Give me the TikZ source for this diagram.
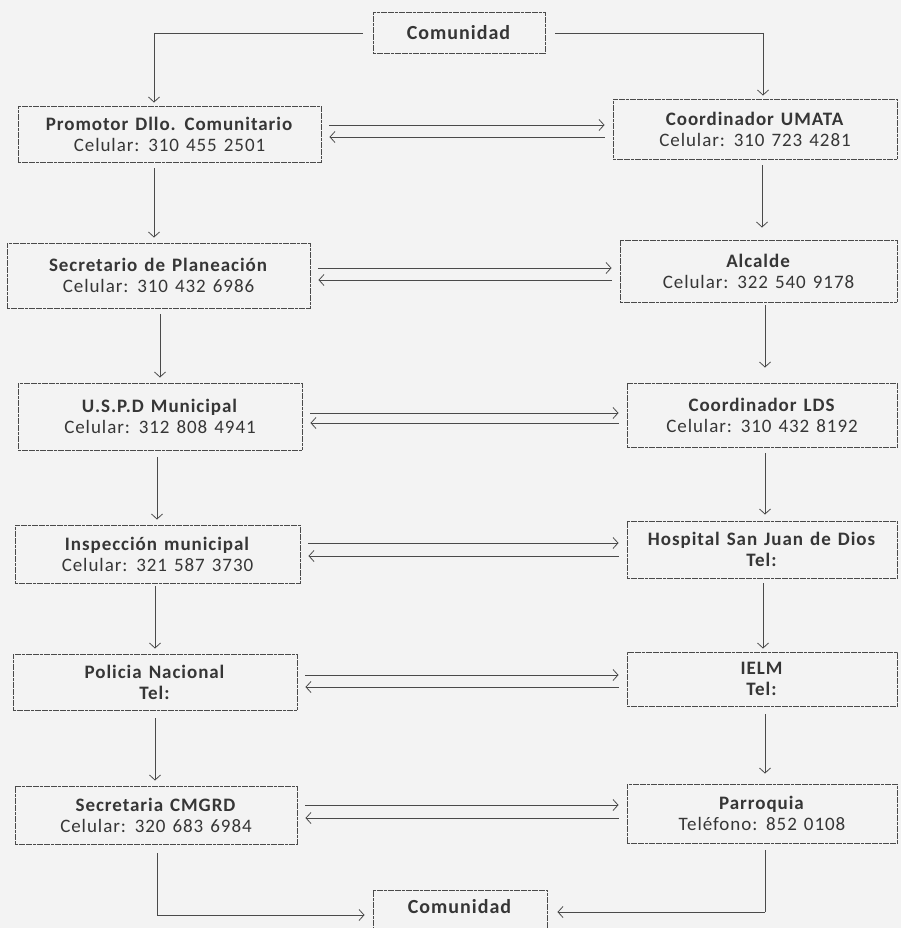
\documentclass[tikz,border=0pt]{standalone}
\usepackage{fontspec}
\setmainfont{Carlito}[LetterSpace=5]
\usetikzlibrary{arrows.meta}
\definecolor{bg}{HTML}{F3F3F3}
\definecolor{ink}{HTML}{363636}
\definecolor{linec}{HTML}{4A4A4A}
\newcommand{\boxfont}{\fontsize{19}{21}\selectfont\spaceskip=7pt plus 1pt\relax}
\tikzset{
  box/.style={draw=linec, line width=0.9pt, dash pattern=on 3pt off 0.6pt, fill=bg,
    inner sep=0pt, align=center, text=ink, font=\boxfont},
  arr/.style={draw=linec, line width=0.8pt, -{Straight Barb[length=5pt,width=11pt]}},
  link/.style={draw=linec, line width=0.8pt}
}
\newcommand{\twol}[2]{\textbf{#1}\\#2}
\begin{document}
\begin{tikzpicture}[x=1pt,y=-1pt]
\fill[bg] (0,0) rectangle (901,928);
\useasboundingbox (0,0) rectangle (901,928);
\clip (0,0) rectangle (901,928);
% boxes
\node[box, minimum width=172pt, minimum height=41pt] (com1) at (459,32.5) {\textbf{\fontsize{20}{22}\selectfont Comunidad}};
\node[box, minimum width=303pt, minimum height=56pt] (prom) at (169.5,134) {\twol{Promotor Dllo. Comunitario}{Celular: 310 455 2501}};
\node[box, minimum width=284pt, minimum height=60pt] (umata) at (755,129) {\twol{Coordinador UMATA}{Celular: 310 723 4281}};
\node[box, minimum width=303pt, minimum height=65pt] (secp) at (158.5,275.5) {\twol{Secretario de Planeación}{Celular: 310 432 6986}};
\node[box, minimum width=277pt, minimum height=62pt] (alc) at (758.5,271) {\twol{Alcalde}{Celular: 322 540 9178}};
\node[box, minimum width=284pt, minimum height=67pt] (uspd) at (160,416.5) {\twol{U.S.P.D Municipal}{Celular: 312 808 4941}};
\node[box, minimum width=270pt, minimum height=64pt] (lds) at (762,415) {\twol{Coordinador LDS}{Celular: 310 432 8192}};
\node[box, minimum width=285pt, minimum height=58pt] (insp) at (157.5,554) {\twol{Inspección municipal}{Celular: 321 587 3730}};
\node[box, minimum width=270pt, minimum height=57pt] (hosp) at (762,549.5) {\twol{Hospital San Juan de Dios}{\textbf{Tel:}}};
\node[box, minimum width=284pt, minimum height=56pt] (pol) at (155,682) {\twol{Policia Nacional}{\textbf{Tel:}}};
\node[box, minimum width=270pt, minimum height=54pt] (ielm) at (762,679) {\twol{IELM}{\textbf{Tel:}}};
\node[box, minimum width=282pt, minimum height=58pt] (cmg) at (156,815) {\twol{Secretaria CMGRD}{Celular: 320 683 6984}};
\node[box, minimum width=270pt, minimum height=59pt] (parr) at (762,813.5) {\twol{Parroquia}{Teléfono: 852 0108}};
\node[box, minimum width=174pt, minimum height=44pt, anchor=north, text depth=12pt] (com2) at (460,890) {\textbf{\fontsize{20}{22}\selectfont Comunidad}};
% top connectors
\coordinate (tl) at (154,33);
\coordinate (tr) at (763,33);
\draw[link] ([xshift=-10pt]com1.west |- tl) -- (tl);
\draw[arr, shorten >=3pt] (tl) -- (tl |- prom.north);
\draw[link] ([xshift=10pt]com1.east |- tr) -- (tr);
\draw[arr, shorten >=3pt] (tr) -- (tr |- umata.north);
% bottom connectors
\coordinate (bl) at (157,915);
\coordinate (br) at (765,912);
\draw[link] ([yshift=-9pt]cmg.south -| bl) -- (bl);
\draw[arr, shorten >=8pt] (bl) -- (bl -| com2.west);
\draw[link] ([yshift=-7pt]parr.south -| br) -- (br);
\draw[arr, shorten >=10pt] (br) -- (br -| com2.east);
% left vertical chain
\draw[arr, shorten <=6pt, shorten >=5pt] (prom.south -| 154,0) -- (secp.north -| 154,0);
\draw[arr, shorten <=6pt, shorten >=5pt] (secp.south -| 160,0) -- (uspd.north -| 160,0);
\draw[arr, shorten <=7pt, shorten >=5pt] (uspd.south -| 157,0) -- (insp.north -| 157,0);
\draw[arr, shorten <=3pt, shorten >=5pt] (insp.south -| 155,0) -- (pol.north -| 155,0);
\draw[arr, shorten <=8pt, shorten >=5pt] (pol.south -| 155,0) -- (cmg.north -| 155,0);
% right vertical chain
\draw[arr, shorten <=6pt, shorten >=12pt] (umata.south -| 762,0) -- (alc.north -| 762,0);
\draw[arr, shorten <=3pt, shorten >=15pt] (alc.south -| 765,0) -- (lds.north -| 765,0);
\draw[arr, shorten <=6pt, shorten >=6pt] (lds.south -| 765,0) -- (hosp.north -| 765,0);
\draw[arr, shorten <=5pt, shorten >=3pt] (hosp.south -| 763,0) -- (ielm.north -| 763,0);
\draw[arr, shorten <=8pt, shorten >=10pt] (ielm.south -| 765,0) -- (parr.north -| 765,0);
% horizontal pairs
\foreach \l/\r/\u/\d in {prom/umata/125/137, secp/alc/268/280, uspd/lds/413/423, insp/hosp/543/556, pol/ielm/675/687, cmg/parr/805/818}{
  \draw[arr, shorten <=8pt, shorten >=8pt] (\l.east |- 0,\u) -- (\r.west |- 0,\u);
  \draw[arr, shorten <=8pt, shorten >=8pt] (\r.west |- 0,\d) -- (\l.east |- 0,\d);
}
\end{tikzpicture}
\end{document}
